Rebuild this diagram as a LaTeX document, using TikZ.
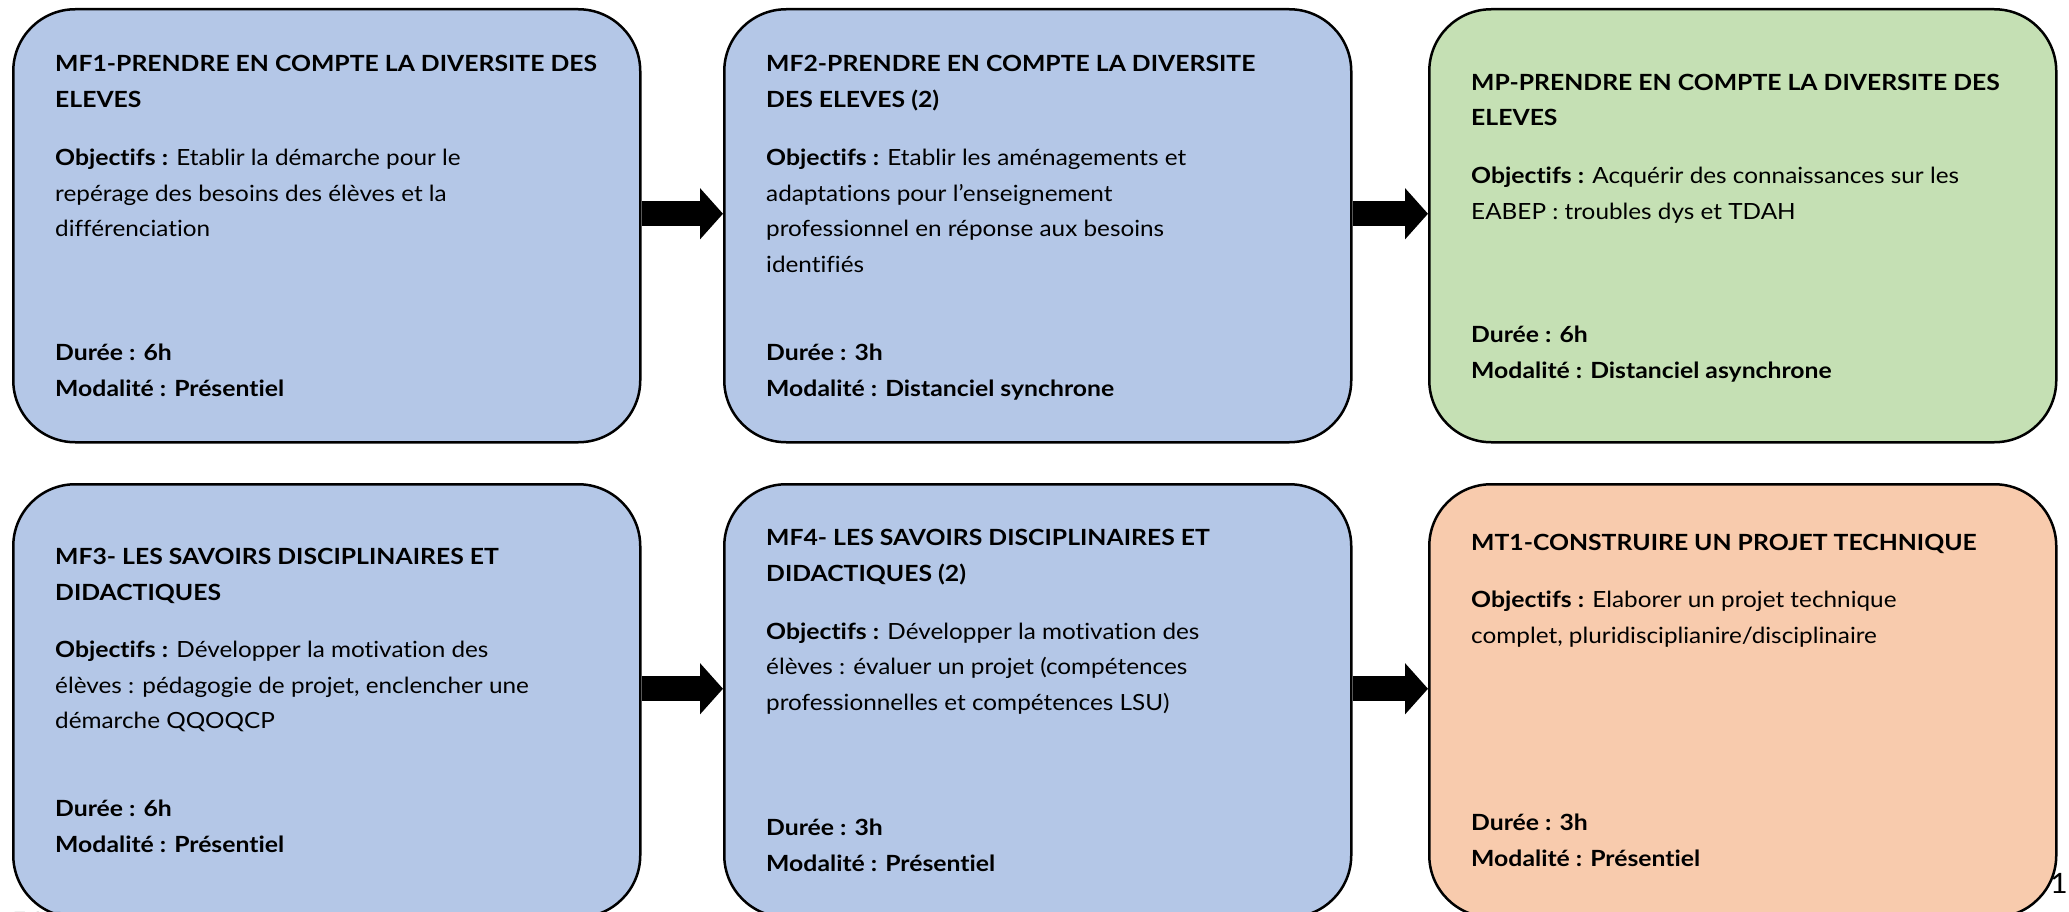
\documentclass[tikz,border=0pt]{standalone}
\usepackage{fontspec}
\setmainfont{Lato}[Ligatures={NoCommon,NoRare,NoDiscretionary}, FakeStretch=1.09, BoldFeatures={FakeStretch=1.11}]
\usetikzlibrary{arrows.meta}
\definecolor{bluefill}{HTML}{B4C7E7}
\definecolor{greenfill}{HTML}{C5E0B4}
\definecolor{orangefill}{HTML}{F8CBAD}
\begin{document}
\begin{tikzpicture}[x=1pt,y=-1pt,
  box/.style={draw=black, line width=2.5pt, rounded corners=62pt, minimum width=627pt, minimum height=433pt, anchor=north west, inner sep=0pt},
  ln/.style={anchor=base west, inner sep=0pt, font=\fontsize{22.3}{26}\selectfont},
  flow/.style={line width=25pt, -{Triangle[width=50pt,length=23pt]}},
  pgnum/.style={anchor=base west, inner sep=0pt, font=\fontsize{28}{30}\selectfont}]
\useasboundingbox (0,0) rectangle (2069,912);
% boxes
\node[box, fill=bluefill] (b1) at (12,8) {};
\node[box, fill=bluefill] (b2) at (723,8) {};
\node[box, fill=greenfill] (b3) at (1428,8) {};
\node[box, fill=bluefill] (b4) at (12,483) {};
\node[box, fill=bluefill] (b5) at (723,483) {};
\node[box, fill=orangefill] (b6) at (1428,483) {};
% arrows
\draw[flow] ([yshift=12pt]b1.east) -- ([yshift=12pt]b2.west);
\draw[flow] ([yshift=12pt]b2.east) -- ([yshift=12pt]b3.west);
\draw[flow] ([yshift=12pt]b4.east) -- ([yshift=12pt]b5.west);
\draw[flow] ([yshift=12pt]b5.east) -- ([yshift=12pt]b6.west);
% box 1
\node[ln] (b1l1) at ([shift={(43,63.7)}]b1.north west) {\textbf{MF1-PRENDRE EN COMPTE LA DIVERSITE DES}};
\node[ln] (b1l2) at ([shift={(43,99.3)}]b1.north west) {\textbf{ELEVES}};
\node[ln] (b1l3) at ([shift={(43,157.5)}]b1.north west) {\textbf{Objectifs :} Etablir la démarche pour le};
\node[ln] (b1l4) at ([shift={(43,193.1)}]b1.north west) {repérage des besoins des élèves et la};
\node[ln] (b1l5) at ([shift={(43,228.7)}]b1.north west) {différenciation};
\node[ln] (b1l6) at ([shift={(43,352.8)}]b1.north west) {\textbf{Durée : 6h}};
\node[ln] (b1l7) at ([shift={(43,388.4)}]b1.north west) {\textbf{Modalité : Présentiel}};
% box 2
\node[ln] (b2l1) at ([shift={(43,63.7)}]b2.north west) {\textbf{MF2-PRENDRE EN COMPTE LA DIVERSITE}};
\node[ln] (b2l2) at ([shift={(43,99.3)}]b2.north west) {\textbf{DES ELEVES (2)}};
\node[ln] (b2l3) at ([shift={(43,157.5)}]b2.north west) {\textbf{Objectifs :} Etablir les aménagements et};
\node[ln] (b2l4) at ([shift={(43,193.1)}]b2.north west) {adaptations pour l’enseignement};
\node[ln] (b2l5) at ([shift={(43,228.7)}]b2.north west) {professionnel en réponse aux besoins};
\node[ln] (b2l6) at ([shift={(43,264.3)}]b2.north west) {identifiés};
\node[ln] (b2l7) at ([shift={(43,352.8)}]b2.north west) {\textbf{Durée : 3h}};
\node[ln] (b2l8) at ([shift={(43,388.4)}]b2.north west) {\textbf{Modalité : Distanciel synchrone}};
% box 3
\node[ln] (b3l1) at ([shift={(43,82.3)}]b3.north west) {\textbf{MP-PRENDRE EN COMPTE LA DIVERSITE DES}};
\node[ln] (b3l2) at ([shift={(43,117.9)}]b3.north west) {\textbf{ELEVES}};
\node[ln] (b3l3) at ([shift={(43,176)}]b3.north west) {\textbf{Objectifs :} Acquérir des connaissances sur les};
\node[ln] (b3l4) at ([shift={(43,211.6)}]b3.north west) {EABEP : troubles dys et TDAH};
\node[ln] (b3l5) at ([shift={(43,334.3)}]b3.north west) {\textbf{Durée : 6h}};
\node[ln] (b3l6) at ([shift={(43,370.5)}]b3.north west) {\textbf{Modalité : Distanciel asynchrone}};
% box 4
\node[ln] (b4l1) at ([shift={(43,81)}]b4.north west) {\textbf{MF3- LES SAVOIRS DISCIPLINAIRES ET}};
\node[ln] (b4l2) at ([shift={(43,117)}]b4.north west) {\textbf{DIDACTIQUES}};
\node[ln] (b4l3) at ([shift={(43,174.7)}]b4.north west) {\textbf{Objectifs :} Développer la motivation des};
\node[ln] (b4l4) at ([shift={(43,210.3)}]b4.north west) {élèves : pédagogie de projet, enclencher une};
\node[ln] (b4l5) at ([shift={(43,245.9)}]b4.north west) {démarche QQOQCP};
\node[ln] (b4l6) at ([shift={(43,333)}]b4.north west) {\textbf{Durée : 6h}};
\node[ln] (b4l7) at ([shift={(43,369)}]b4.north west) {\textbf{Modalité : Présentiel}};
% box 5
\node[ln] (b5l1) at ([shift={(43,62.5)}]b5.north west) {\textbf{MF4- LES SAVOIRS DISCIPLINAIRES ET}};
\node[ln] (b5l2) at ([shift={(43,98.1)}]b5.north west) {\textbf{DIDACTIQUES (2)}};
\node[ln] (b5l3) at ([shift={(43,156.2)}]b5.north west) {\textbf{Objectifs :} Développer la motivation des};
\node[ln] (b5l4) at ([shift={(43,191.8)}]b5.north west) {élèves : évaluer un projet (compétences};
\node[ln] (b5l5) at ([shift={(43,227.4)}]b5.north west) {professionnelles et compétences LSU)};
\node[ln] (b5l6) at ([shift={(43,352.8)}]b5.north west) {\textbf{Durée : 3h}};
\node[ln] (b5l7) at ([shift={(43,388.4)}]b5.north west) {\textbf{Modalité : Présentiel}};
% box 6
\node[ln] (b6l1) at ([shift={(43,67.8)}]b6.north west) {\textbf{MT1-CONSTRUIRE UN PROJET TECHNIQUE}};
\node[ln] (b6l2) at ([shift={(43,124.5)}]b6.north west) {\textbf{Objectifs :} Elaborer un projet technique};
\node[ln] (b6l3) at ([shift={(43,160.1)}]b6.north west) {complet, pluridisciplianire/disciplinaire};
\node[ln] (b6l4) at ([shift={(43,347.5)}]b6.north west) {\textbf{Durée : 3h}};
\node[ln] (b6l5) at ([shift={(43,383.2)}]b6.north west) {\textbf{Modalité : Présentiel}};
% page marks
\node[pgnum] (pgA) at (2050,893) {1};
\node[pgnum] (pgB) at (10,932) {515};
\end{tikzpicture}
\end{document}
